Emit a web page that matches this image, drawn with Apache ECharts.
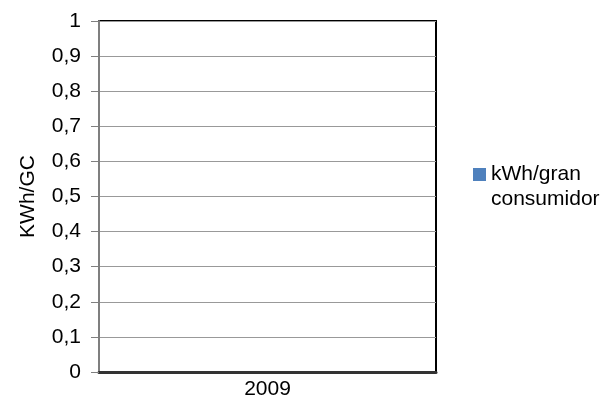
<!DOCTYPE html>
<html>
<head>
<meta charset="utf-8">
<script src="https://cdn.jsdelivr.net/npm/echarts@6/dist/echarts.min.js"></script>
<style>html,body{margin:0;padding:0;background:#fff}#c{width:608px;height:416px}</style>
</head>
<body>
<div id="c"></div>
<script>
var categories = ['2009'];
var seriesName = 'kWh/gran consumidor';
var values = [0];
var yTicks = [0, 0.1, 0.2, 0.3, 0.4, 0.5, 0.6, 0.7, 0.8, 0.9, 1];

var chart = echarts.init(document.getElementById('c'));
var font = 'Liberation Sans, Arial, sans-serif';
var fs = 21;
chart.setOption({
  animation: false,
  backgroundColor: '#fff',
  textStyle: { fontFamily: font },
  grid: { left: 99, right: 172, top: 21, bottom: 44, show: true, borderColor: '#000', borderWidth: 2, backgroundColor: 'transparent' },
  legend: {
    left: 468, top: 132,
    itemWidth: 13, itemHeight: 13, itemGap: 0,
    icon: 'rect',
    formatter: function () { return ' \nkWh/gran\nconsumidor'; },
    textStyle: { fontFamily: font, fontSize: fs, color: '#000', lineHeight: 25 },
    data: [seriesName]
  },
  xAxis: {
    type: 'category',
    data: categories,
    axisLine: { lineStyle: { color: '#333', width: 3 } },
    axisTick: { show: false },
    axisLabel: { color: '#000', fontSize: fs, fontFamily: font, margin: 7 }
  },
  yAxis: {
    type: 'value',
    min: yTicks[0], max: yTicks[yTicks.length - 1], interval: 0.1,
    name: 'KWh/GC', nameLocation: 'middle', nameGap: 60,
    nameTextStyle: { color: '#000', fontSize: fs, fontFamily: font },
    axisLine: { show: true, lineStyle: { color: '#7f7f7f', width: 2 } },
    axisTick: { show: true, length: 8, lineStyle: { color: '#7f7f7f' } },
    splitLine: { lineStyle: { color: '#999', width: 1 } },
    axisLabel: { color: '#000', fontSize: fs, fontFamily: font, margin: 18,
      formatter: function (v) { return (Math.round(v * 10) / 10).toString().replace('.', ','); } }
  },
  series: [{
    name: seriesName,
    type: 'bar',
    data: values,
    itemStyle: { color: '#4F81BD' }
  }]
});
</script>
</body>
</html>
